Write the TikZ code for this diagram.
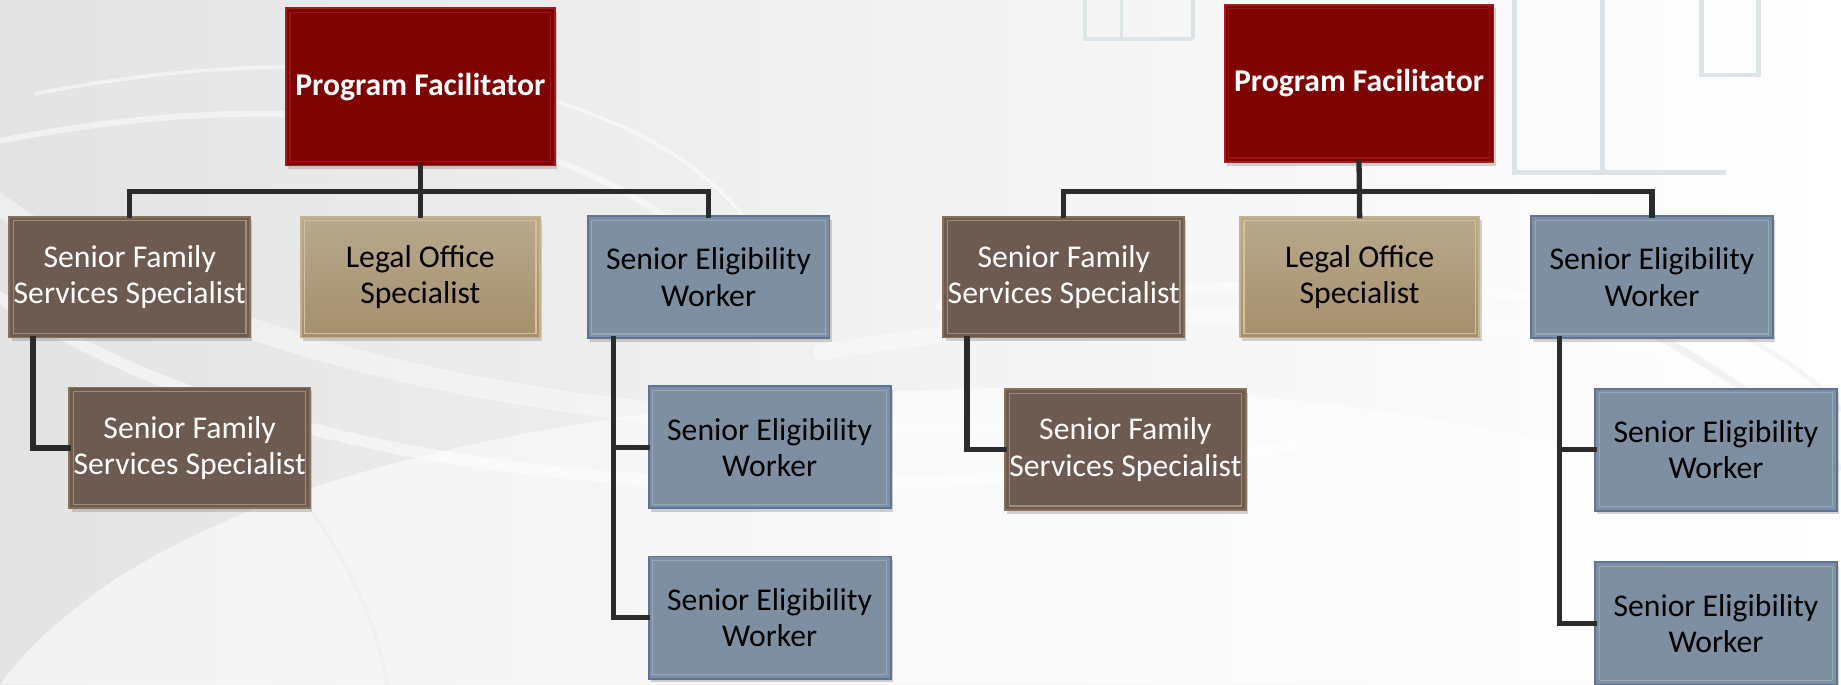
\documentclass[tikz,border=0pt]{standalone}
\usepackage{fontspec}
\setmainfont{Carlito}
\usetikzlibrary{shadows}
\definecolor{pfF}{HTML}{800303}
\definecolor{pfB}{HTML}{A51B1B}
\definecolor{fsF}{HTML}{6D5B52}
\definecolor{fsB}{HTML}{857258}
\definecolor{loT}{HTML}{B8A98D}
\definecolor{loM}{HTML}{A58F6C}
\definecolor{loB}{HTML}{C6B28B}
\definecolor{ewF}{HTML}{7F8FA2}
\definecolor{ewB}{HTML}{5F7394}
\definecolor{ewL}{HTML}{98A8BB}
\definecolor{lnC}{HTML}{2B2B2B}
\definecolor{frm}{HTML}{DCE4E8}
\tikzset{
  box/.style={rectangle, inner sep=0pt, align=center, line width=1.6pt,
    font=\fontsize{27}{31}\selectfont,
    drop shadow={opacity=0.35, shadow xshift=2pt, shadow yshift=-3pt},
    path picture={\draw[#1, line width=1pt]
      ([shift={(3.5pt,-3.5pt)}]path picture bounding box.north west) rectangle
      ([shift={(-3.5pt,3.5pt)}]path picture bounding box.south east);}},
  pfbox/.style={box=pfB!70!pfF, fill=pfF, draw=pfB, text=white,
    minimum width=229pt, minimum height=134pt, font=\fontsize{27}{31}\selectfont\bfseries},
  fsbox/.style={box=fsB!80!white, fill=fsF, draw=fsB, text=white,
    minimum width=205pt, minimum height=103pt},
  lobox/.style={box=loB!80!white, top color=loT, bottom color=loM, draw=loB, text=black,
    minimum width=204pt, minimum height=103pt},
  ewbox/.style={box=ewL, fill=ewF, draw=ewB, text=black,
    minimum width=206pt, minimum height=104pt},
  conn/.style={draw=lnC, line width=4.5pt, line cap=rect},
  swoosh/.style={draw=white, line cap=round},
}
\begin{document}
\begin{tikzpicture}[x=1pt,y=-1pt]
% background
\shade[left color=black!11, right color=white, middle color=black!5] (0,0) rectangle (1568,583);
\useasboundingbox (0,0) rectangle (1568,583);
\begin{scope}
\clip (0,0) rectangle (1568,583);
\fill[white, opacity=0.55] (0,583) .. controls (150,380) and (600,330) .. (900,330)
  .. controls (1100,330) and (1300,360) .. (1568,440) -- (1568,583) -- cycle;
\draw[swoosh, line width=18pt, opacity=0.4] (-20,160) .. controls (200,330) and (600,380) .. (950,360);
\draw[swoosh, line width=10pt, opacity=0.5] (-20,240) .. controls (250,430) and (700,440) .. (1100,380);
\draw[swoosh, line width=5pt, opacity=0.5] (0,120) .. controls (300,60) and (550,120) .. (640,260);
\draw[swoosh, line width=3pt, opacity=0.5] (30,80) .. controls (330,20) and (600,80) .. (660,230);
\draw[swoosh, line width=14pt, opacity=0.4] (700,300) .. controls (1000,250) and (1300,260) .. (1568,330);
\draw[swoosh, line width=8pt, opacity=0.5] (800,260) .. controls (1100,230) and (1350,240) .. (1568,300);
\draw[black!12, line width=6pt, opacity=0.4] (1340,250) .. controls (1450,300) and (1530,360) .. (1568,400);
\draw[black!12, line width=4pt, opacity=0.3] (1380,230) .. controls (1480,280) and (1550,320) .. (1568,350);
\draw[black!10, line width=3pt, opacity=0.3] (0,220) .. controls (150,300) and (300,420) .. (330,583);
% faint window frames
\draw[frm, line width=4pt] (1290,0) -- (1290,147) -- (1470,147);
\draw[frm, line width=4pt] (1365,0) -- (1365,147);
\draw[frm, line width=4pt] (1449,0) -- (1449,64) -- (1498,64) -- (1498,0);
\draw[frm, line width=3pt] (924,0) -- (924,33) -- (1016,33);
\draw[frm, line width=3pt] (955,0) -- (955,33);
\draw[frm, line width=3pt] (1016,0) -- (1016,33);
\end{scope}
% left tree
\node[pfbox] (pf1) at (358,74) {Program Facilitator};
\node[fsbox] (fs1) at (110.5,236) {Senior Family\\Services Specialist};
\node[lobox] (lo1) at (358,236) {Legal Office\\Specialist};
\node[ewbox] (ew1) at (603.5,236) {Senior Eligibility\\Worker};
\node[fsbox] (fs1c) at (161.5,381.5) {Senior Family\\Services Specialist};
\node[ewbox] (ew1a) at (655.5,381) {Senior Eligibility\\Worker};
\node[ewbox] (ew1b) at (655.5,526) {Senior Eligibility\\Worker};
\coordinate (j1) at (358,163);
% right tree
\node[pfbox] (pf2) at (1157.5,71) {Program Facilitator};
\node[fsbox] (fs2) at (906,236) {Senior Family\\Services Specialist};
\node[lobox] (lo2) at (1158,236) {Legal Office\\Specialist};
\node[ewbox] (ew2) at (1407,236) {Senior Eligibility\\Worker};
\node[fsbox] (fs2c) at (958.5,383) {Senior Family\\Services Specialist};
\node[ewbox] (ew2a) at (1461.5,383) {Senior Eligibility\\Worker};
\node[ewbox] (ew2b) at (1461.5,531) {Senior Eligibility\\Worker};
\coordinate (j2) at (1158,163);
% connectors left
\draw[conn] (pf1.south) -- (lo1.north);
\draw[conn] (fs1.north) |- (j1) -| (ew1.north);
\draw[conn] ([xshift=21pt]fs1.south west) |- (fs1c.west);
\draw[conn] ([xshift=23pt]ew1.south west) |- (ew1b.west);
\draw[conn] ([xshift=23pt]ew1.south west |- ew1a.west) -- (ew1a.west);
% connectors right
\draw[conn] (pf2.south) -- (lo2.north);
\draw[conn] (fs2.north) |- (j2) -| (ew2.north);
\draw[conn] ([xshift=21pt]fs2.south west) |- (fs2c.west);
\draw[conn] ([xshift=25pt]ew2.south west) |- (ew2b.west);
\draw[conn] ([xshift=25pt]ew2.south west |- ew2a.west) -- (ew2a.west);
\end{tikzpicture}
\end{document}
